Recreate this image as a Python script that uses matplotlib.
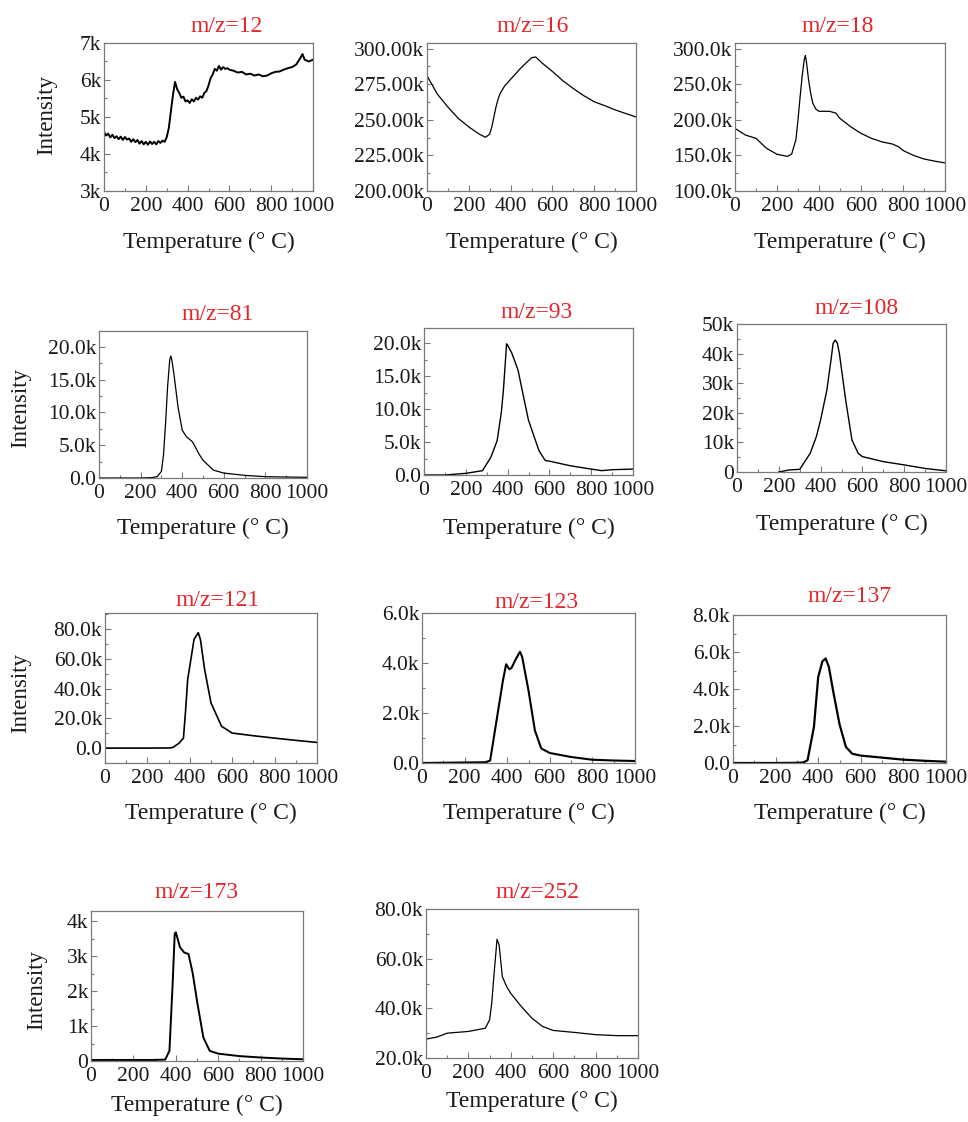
import matplotlib
matplotlib.use("Agg")
import matplotlib.pyplot as plt
from matplotlib.ticker import MultipleLocator, FuncFormatter

plt.rcParams['font.family'] = ['Liberation Serif', 'DejaVu Serif']

# ---------------- data ----------------
labels = ["m/z=12", "m/z=16", "m/z=18", "m/z=81", "m/z=93", "m/z=108",
          "m/z=121", "m/z=123", "m/z=137", "m/z=173", "m/z=252"]

T12 = [0, 10, 20, 30, 40, 50, 60, 70, 80, 90, 100, 110, 120, 130, 140, 150, 160,
       170, 180, 190, 200, 210, 220, 230, 240, 250, 260, 270, 280, 290, 300, 310,
       320, 330, 340, 350, 360, 370, 380, 390, 400, 410, 420, 430, 440, 450, 460,
       470, 480, 490, 500, 510, 520, 530, 540, 550, 560, 570, 580, 590, 600, 620,
       640, 660, 680, 700, 720, 740, 760, 780, 800, 820, 840, 860, 880, 900, 920,
       940, 950, 960, 980, 1000]
I12 = [4600, 4500, 4550, 4450, 4520, 4430, 4480, 4400, 4470, 4380, 4460, 4390,
       4420, 4330, 4400, 4320, 4380, 4280, 4350, 4260, 4330, 4250, 4340, 4270,
       4330, 4260, 4350, 4300, 4360, 4330, 4450, 4700, 5150, 5600, 5950, 5750,
       5650, 5520, 5550, 5420, 5450, 5380, 5480, 5420, 5520, 5470, 5560, 5520,
       5650, 5700, 5850, 6050, 6150, 6300, 6250, 6380, 6280, 6350, 6300, 6320,
       6280, 6250, 6200, 6220, 6150, 6170, 6120, 6150, 6100, 6120, 6180, 6220,
       6230, 6280, 6320, 6350, 6420, 6600, 6700, 6550, 6500, 6550]

T16 = [0, 50, 100, 150, 200, 250, 280, 300, 310, 320, 330, 340, 350, 370, 400,
       450, 500, 520, 550, 600, 650, 700, 750, 800, 850, 900, 950, 1000]
I16 = [281000, 268000, 259000, 251000, 245000, 240000, 237700, 240000, 245000,
       252000, 259000, 264500, 268500, 273500, 278500, 286600, 293600, 294200,
       290000, 284000, 277500, 272000, 267000, 262700, 260000, 257000, 254500,
       252000]

T18 = [0, 50, 100, 150, 200, 250, 270, 290, 300, 310, 320, 330, 335, 340, 350,
       360, 370, 385, 400, 450, 480, 500, 550, 600, 650, 700, 750, 780, 800, 850,
       900, 950, 1000]
I18 = [188000, 178600, 174000, 160000, 151600, 148600, 152000, 172000, 200000,
       232000, 262000, 285000, 290500, 282000, 257000, 238000, 224000, 215000,
       212000, 212000, 209500, 202000, 190500, 181000, 174000, 169000, 166000,
       162000, 157000, 150000, 145000, 142000, 139500]

T81 = [0, 100, 200, 250, 280, 300, 310, 320, 330, 340, 345, 350, 360, 380, 400,
       420, 450, 480, 500, 550, 600, 700, 800, 900, 1000]
I81 = [0, 0, 0, 50, 200, 1000, 3500, 8300, 14000, 18000, 18600, 18000, 15900,
       10800, 7300, 6300, 5500, 3700, 2700, 1200, 750, 400, 200, 150, 100]

T93 = [0, 100, 200, 280, 320, 350, 370, 380, 390, 395, 400, 420, 450, 480, 500,
       550, 580, 600, 700, 800, 850, 900, 1000]
I93 = [0, 0, 250, 660, 2700, 5200, 9500, 12900, 17500, 19900, 19700, 18500,
       15900, 11300, 8300, 3700, 2200, 2100, 1400, 900, 660, 800, 900]

T108 = [200, 250, 300, 350, 380, 400, 430, 450, 460, 470, 480, 490, 520, 550,
        580, 600, 700, 800, 900, 1000]
I108 = [0, 700, 900, 6300, 12000, 17600, 27700, 38000, 43500, 44600, 43500,
        40000, 24300, 10800, 6300, 5200, 3500, 2400, 1200, 400]

T121 = [0, 100, 200, 300, 320, 350, 370, 380, 390, 400, 420, 440, 450, 470,
        500, 550, 600, 700, 800, 900, 1000]
I121 = [0, 0, 0, 100, 400, 3400, 6700, 25000, 46000, 55000, 73000, 77500,
        73000, 52700, 30300, 14600, 10100, 8300, 6700, 5200, 3800]

T123 = [0, 100, 200, 300, 320, 350, 380, 395, 410, 420, 440, 460, 470, 500,
        530, 560, 600, 700, 800, 900, 1000]
I123 = [0, 10, 20, 30, 100, 1700, 3300, 3950, 3750, 3800, 4150, 4450, 4250,
        2900, 1300, 580, 400, 240, 130, 100, 80]

T137 = [0, 100, 200, 300, 330, 350, 380, 400, 420, 435, 450, 470, 500, 530,
        560, 600, 700, 800, 900, 1000]
I137 = [0, 0, 0, 10, 30, 150, 1950, 4650, 5500, 5650, 5200, 3900, 2100, 870,
        500, 400, 290, 180, 120, 70]

T173 = [0, 100, 200, 300, 350, 370, 385, 395, 400, 420, 440, 460, 480, 500,
        530, 560, 600, 700, 800, 900, 1000]
I173 = [30, 30, 30, 30, 40, 290, 2200, 3640, 3680, 3250, 3100, 3060, 2500,
        1720, 670, 290, 210, 140, 100, 70, 50]

T252 = [0, 50, 100, 200, 280, 300, 310, 320, 335, 345, 360, 380, 400, 450, 500,
        550, 600, 700, 800, 900, 1000]
I252 = [27600, 28400, 30000, 30700, 32000, 35400, 42000, 52800, 67800, 65500,
        52800, 48800, 46000, 40700, 36000, 32700, 31100, 30300, 29400, 29000,
        29000]

series_T = [T12, T16, T18, T81, T93, T108, T121, T123, T137, T173, T252]
series_I = [I12, I16, I18, I81, I93, I108, I121, I123, I137, I173, I252]

ylims = [(3000, 7000), (200000, 304000), (100000, 308000), (0, 22400),
         (0, 22300), (0, 50000), (-10000, 90700), (0, 6000), (0, 8000),
         (0, 4290), (20000, 80000)]
ymajor = [1000, 25000, 50000, 5000, 5000, 10000, 20000, 2000, 2000, 1000, 20000]
ydec = [0, 2, 1, 1, 1, 0, 1, 1, 1, 0, 1]
xticks = [0, 200, 400, 600, 800, 1000]

# ---------------- layout (pixels in a 968 x 1122 canvas) ----------------
W, H = 968, 1122
boxes = [(104, 313, 43, 191), (427, 636, 43, 191), (735, 945, 43, 191),
         (99, 307, 331, 478), (424, 633, 328, 475), (737, 946, 324, 472),
         (105, 317, 613, 763), (422, 635, 613, 763), (733, 946, 615, 763),
         (91, 303, 911, 1061), (426, 638, 909, 1058)]
title_pos = [(227, 27), (533, 27), (838, 27), (218, 315), (537, 312), (857, 308),
             (218, 600), (537, 602), (850, 597), (197, 893), (537, 892)]
xlabel_y = [242, 242, 242, 528, 528, 524, 813, 813, 813, 1105, 1101]
ylabel_pos = {0: (47, 115), 3: (21, 408), 6: (21, 693), 9: (37, 990)}
lws = [1.4, 0.9, 0.9, 0.9, 1.0, 1.0, 1.2, 1.5, 1.6, 1.4, 0.9]

fig = plt.figure(figsize=(W / 100, H / 100), dpi=100)
spine_c = '#7a7a7a'


def fmt_factory(dec):
    def f(v, pos):
        if abs(v) < 1e-9:
            return "0" if dec == 0 else "0." + "0" * dec
        return f"{v / 1000:.{dec}f}k"
    return FuncFormatter(f)


for i in range(len(labels)):
    l, r, t, b = boxes[i]
    ax = fig.add_axes([l / W, 1 - b / H, (r - l) / W, (b - t) / H])
    ax.plot(series_T[i], series_I[i], color='black', lw=lws[i])
    ax.set_xlim(0, 1000)
    ax.set_ylim(*ylims[i])
    ax.set_xticks(xticks)
    ax.xaxis.set_minor_locator(MultipleLocator(100))
    ax.yaxis.set_major_locator(MultipleLocator(ymajor[i]))
    ax.yaxis.set_minor_locator(MultipleLocator(ymajor[i] / 2))
    ax.yaxis.set_major_formatter(fmt_factory(ydec[i]))
    ax.tick_params(which='both', direction='in', color=spine_c, labelsize=15.5,
                   labelcolor='#1a1a1a', width=0.8)
    ax.tick_params(which='major', length=4)
    ax.tick_params(axis='x', which='major', pad=4.5)
    ax.tick_params(axis='y', which='major', pad=2)
    ax.tick_params(which='minor', length=2)
    for s in ax.spines.values():
        s.set_color(spine_c)
        s.set_linewidth(0.9)
    cx = (l + r) / 2
    fig.text(title_pos[i][0] / W, 1 - title_pos[i][1] / H, labels[i],
             color='#e3262b', fontsize=17, ha='center', va='center')
    fig.text(cx / W, 1 - xlabel_y[i] / H, "Temperature (° C)", color='#1a1a1a',
             fontsize=17, ha='center', va='center')
    if i in ylabel_pos:
        px, py = ylabel_pos[i]
        fig.text(px / W, 1 - py / H, "Intensity", rotation=90, color='#1a1a1a',
                 fontsize=16.5, ha='center', va='center')

fig.savefig("out.png", dpi=100, facecolor='white')
